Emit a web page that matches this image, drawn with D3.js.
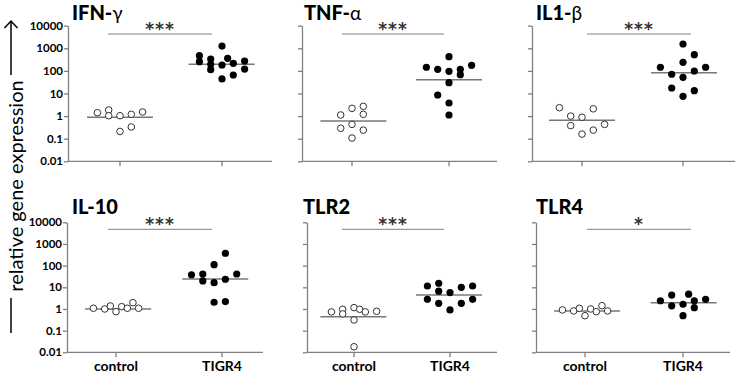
<!DOCTYPE html>
<html>
<head>
<meta charset="utf-8">
<script src="https://cdn.jsdelivr.net/npm/d3@7"></script>
<style>
  body { margin: 0; background: #fff; }
  svg { display: block; font-family: Lato, "Open Sans", sans-serif; }
</style>
</head>
<body>
<svg id="chart" width="737" height="376"></svg>
<script>
// categories and axis ticks
const categories = ["control", "TIGR4"];
const yTicks = [0.01, 0.1, 1, 10, 100, 1000, 10000];
const genes = ["IFN-", "TNF-", "IL1-", "IL-10", "TLR2", "TLR4"];
const greek = ["γ", "α", "β", "", "", ""];
const stars = ["***", "***", "***", "***", "***", "*"];

// values; slot = column in the scatter (0 = centred)
const ifngControl     = [1.41, 1.86, 1.04, 1.04, 1.2, 1.52, 0.21, 0.33];
const ifngControlSlot = [-2, -1, -1, 0, 1, 2, 0, 1];
const ifngTigr4       = [1260, 470, 257, 336, 195, 113, 360, 182, 217, 274, 121, 44, 66];
const ifngTigr4Slot   = [0, -2, -2, -1, -1, -1, 0.5, 0, 1, 2, 2, 0, 1];

const tnfControl      = [1.12, 2.2, 2.7, 1.2, 0.29, 0.43, 0.24, 0.107];
const tnfControlSlot  = [-1, 0, 1, 1, -1, 0, 1, 0];
const tnfTigr4        = [425, 145, 118, 96, 118, 68, 177, 30, 8.6, 3.8, 1.12];
const tnfTigr4Slot    = [0, -2, -1, 0, 1, 1, 2, 0, -1, 0, 0];

const il1Control      = [2.35, 1.0, 0.89, 2.1, 0.38, 0.43, 0.24, 0.16];
const il1ControlSlot  = [-2, -1, 0, 1, -1, 2, 1, 0];
const il1Tigr4        = [1550, 520, 240, 145, 145, 71, 99, 52, 17.5, 13.3, 7.5];
const il1Tigr4Slot    = [0, 1, 0, -2, 2, -1, 1, 0, -1, 1, 0];

const il10Control     = [1.08, 1.0, 1.37, 0.75, 1.28, 1.08, 1.95, 1.08];
const il10ControlSlot = [-2, -1, -0.5, 0, 0.5, 1, 1.5, 2];
const il10Tigr4       = [372, 111, 38, 41, 41, 19.6, 16.4, 23.5, 2.04, 2.2];
const il10Tigr4Slot   = [0.3, -0.7, -2.7, -1.7, 1.3, -1.7, -0.7, 0.3, -0.7, 0.3];

const tlr2Control     = [0.73, 0.97, 0.59, 1.15, 0.97, 0.73, 0.78, 0.31, 0.018];
const tlr2ControlSlot = [-2, -1, -1, 0, 0.5, 1, 2, 0, 0];
const tlr2Tigr4       = [11.5, 15.4, 6.6, 5.7, 10, 11.5, 2.8, 1.83, 0.9, 1.83, 2.8];
const tlr2Tigr4Slot   = [-2, -1, -1, 0, 1, 2, -2, -1, 0, 1, 2];

const tlr4Control     = [0.9, 0.81, 1.07, 0.49, 1.0, 0.75, 1.42, 0.81];
const tlr4ControlSlot = [-2, -1, -0.5, 0, 0.5, 1, 1.5, 2];
const tlr4Tigr4       = [2.4, 4.4, 1.4, 1.65, 0.49, 4.8, 2.4, 1.15, 2.8];
const tlr4Tigr4Slot   = [-2, -1, -1, 0, 0, 0.5, 1, 1, 2];

// median bars [control, TIGR4]
const medians = [[0.89, 195], [0.6, 41], [0.65, 83], [1.0, 24], [0.44, 4.4], [0.81, 1.95]];

const panelData = [
  [[ifngControl, ifngControlSlot], [ifngTigr4, ifngTigr4Slot]],
  [[tnfControl, tnfControlSlot], [tnfTigr4, tnfTigr4Slot]],
  [[il1Control, il1ControlSlot], [il1Tigr4, il1Tigr4Slot]],
  [[il10Control, il10ControlSlot], [il10Tigr4, il10Tigr4Slot]],
  [[tlr2Control, tlr2ControlSlot], [tlr2Tigr4, tlr2Tigr4Slot]],
  [[tlr4Control, tlr4ControlSlot], [tlr4Tigr4, tlr4Tigr4Slot]]
];

// layout of the six small plots
const rows = [
  { top: 25.7, bottom: 161.3, title: 19.5, bar: 34 },
  { top: 222.3, bottom: 352.3, title: 213.5, bar: 229.3 }
];
const layout = [
  { row: 0, axis: 68,  c0: 120, c1: 222, end: 272, tx: 72,  bar: [108, 212] },
  { row: 0, axis: 302, c0: 352, c1: 449, end: 497, tx: 304, bar: [342, 444] },
  { row: 0, axis: 532, c0: 582, c1: 683, end: 735, tx: 536, bar: [587, 691] },
  { row: 1, axis: 67,  c0: 116, c1: 222, end: 263, tx: 72,  bar: [108, 212] },
  { row: 1, axis: 307, c0: 354, c1: 450, end: 497, tx: 303, bar: [342, 444] },
  { row: 1, axis: 536, c0: 585, c1: 683, end: 730, tx: 536, bar: [587, 691] }
];

const slotStep = 11.3;
const medianHalf = 33;
const axisColor = "#808080";

const svg = d3.select("#chart");

layout.forEach((L, i) => {
  const R = rows[L.row];
  const g = svg.append("g");

  const y = d3.scaleLog().domain([0.01, 10000]).range([R.bottom, R.top]);
  const x = d3.scalePoint().domain(categories).range([L.c0, L.c1]);

  // y axis
  const yAxis = d3.axisLeft(y)
    .tickValues(yTicks)
    .tickSize(4)
    .tickSizeOuter(0)
    .tickFormat(i % 3 === 0 ? d => String(d) : () => "");
  const ya = g.append("g").attr("transform", `translate(${L.axis},0)`).call(yAxis);
  ya.select(".domain").attr("stroke", axisColor).attr("stroke-width", 1.3);
  ya.selectAll(".tick line").attr("stroke", axisColor).attr("stroke-width", 1.3);
  ya.selectAll(".tick text")
    .attr("x", -5)
    .attr("fill", "#000")
    .style("font-size", "11.5px")
    .style("font-weight", "bold")
    .style("font-family", "Lato, sans-serif");

  // x axis
  const xa = g.append("g").attr("transform", `translate(0,${R.bottom})`);
  xa.append("line")
    .attr("x1", L.axis).attr("x2", L.end)
    .attr("stroke", axisColor).attr("stroke-width", 1.3);
  xa.selectAll("line.tk").data(categories).join("line")
    .attr("class", "tk")
    .attr("x1", d => x(d)).attr("x2", d => x(d))
    .attr("y1", 0).attr("y2", 5)
    .attr("stroke", axisColor).attr("stroke-width", 1.3);
  if (L.row === 1) {
    xa.selectAll("text").data(categories).join("text")
      .attr("x", d => x(d))
      .attr("y", 19)
      .attr("text-anchor", "middle")
      .style("font-size", "14px")
      .style("font-weight", "bold")
      .text(d => d);
  }

  // title
  const t = g.append("text")
    .attr("x", L.tx).attr("y", R.title)
    .style("font-size", "20px")
    .style("font-weight", "900")
    .text(genes[i]);
  if (greek[i]) {
    t.append("tspan").style("font-weight", "normal").style("font-size", "19px").text(greek[i]);
  }

  // significance bar
  g.append("line")
    .attr("x1", L.bar[0]).attr("x2", L.bar[1])
    .attr("y1", R.bar).attr("y2", R.bar)
    .attr("stroke", axisColor).attr("stroke-width", 1);
  g.append("text")
    .attr("x", (L.bar[0] + L.bar[1]) / 2)
    .attr("y", R.bar + 0.5)
    .attr("text-anchor", "middle")
    .attr("fill", "#333")
    .style("font-family", "'DejaVu Sans', sans-serif")
    .style("font-size", "17px")
    .style("font-weight", "bold")
    .style("letter-spacing", "1px")
    .text(stars[i]);

  // medians + points
  panelData[i].forEach(([vals, slots], k) => {
    const cat = categories[k];
    const shift = d3.mean(slots) * slotStep;
    const cx = x(cat) + shift;
    g.append("line")
      .attr("x1", cx - medianHalf).attr("x2", cx + medianHalf)
      .attr("y1", y(medians[i][k])).attr("y2", y(medians[i][k]))
      .attr("stroke", "#777").attr("stroke-width", 1.5);

    const pts = vals.map((v, j) => ({ v, s: slots[j] }));
    g.selectAll(null).data(pts).join("circle")
      .attr("cx", d => x(cat) + d.s * slotStep)
      .attr("cy", d => y(d.v))
      .attr("r", k === 0 ? 3.3 : 3.6)
      .attr("fill", k === 0 ? "#fff" : "#000")
      .attr("stroke", k === 0 ? "#333" : "none")
      .attr("stroke-width", 1);
  });
});

// shared y label with arrow
const lab = svg.append("g");
lab.append("text")
  .attr("transform", "translate(15,186) rotate(-90)")
  .attr("text-anchor", "middle")
  .attr("dominant-baseline", "central")
  .style("font-size", "20px")
  .text("relative gene expression");
lab.append("line").attr("x1", 11).attr("x2", 11).attr("y1", 333).attr("y2", 298)
  .attr("stroke", "#000").attr("stroke-width", 1.5);
lab.append("line").attr("x1", 11).attr("x2", 11).attr("y1", 75).attr("y2", 21)
  .attr("stroke", "#000").attr("stroke-width", 1.5);
lab.append("path").attr("d", "M4.5,28 L11,21 L17.5,28")
  .attr("fill", "none").attr("stroke", "#000").attr("stroke-width", 1.5);
</script>
</body>
</html>
